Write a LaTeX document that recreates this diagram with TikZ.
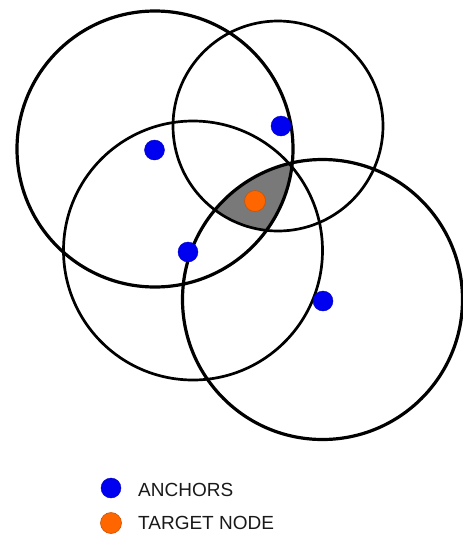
\documentclass[tikz,border=0pt]{standalone}
\usepackage{fontspec}
\setmainfont{Liberation Sans}
\definecolor{anchorblue}{RGB}{0,0,240}
\definecolor{targetorange}{RGB}{255,102,0}
\begin{document}
\begin{tikzpicture}[x=1pt,y=-1pt,
  ring/.style={draw=black,line width=3.2pt},
  thinring/.style={draw=black,line width=2.7pt},
  anchordot/.style={circle,fill=anchorblue,draw=anchorblue!80!black,line width=0.4pt,minimum size=20pt,inner sep=0pt},
  targetdot/.style={circle,fill=targetorange,draw=targetorange!80!black,line width=0.6pt,minimum size=21pt,inner sep=0pt},
  legendtext/.style={anchor=base west,font=\fontsize{19}{22}\selectfont,text=black!90,inner sep=0pt}]
\useasboundingbox (0,0) rectangle (463,542);
% shaded intersection
\begin{scope}
  \clip (155,149) circle (138);
  \clip (278,126) circle (105);
  \fill[gray!95!black] (322.5,299.5) circle (140);
\end{scope}
% circles
\draw[ring] (155,149) circle (138);
\draw[thinring] (278,126) circle (105);
\draw[thinring] (193,250.5) circle (129.5);
\draw[ring] (322.5,299.5) circle (140);
% anchors and target
\node[anchordot] (a1) at (154.5,150) {};
\node[anchordot] (a2) at (281,126) {};
\node[anchordot] (a3) at (188,252) {};
\node[anchordot] (a4) at (323,301) {};
\node[targetdot] (t) at (255,201) {};
% legend
\node[anchordot] (la) at (111,488) {};
\node[targetdot] (lt) at (111,523) {};
\node[legendtext] (lta) at (138,496) {ANCHORS};
\node[legendtext] (ltt) at (138,529) {TARGET NODE};
\end{tikzpicture}
\end{document}
